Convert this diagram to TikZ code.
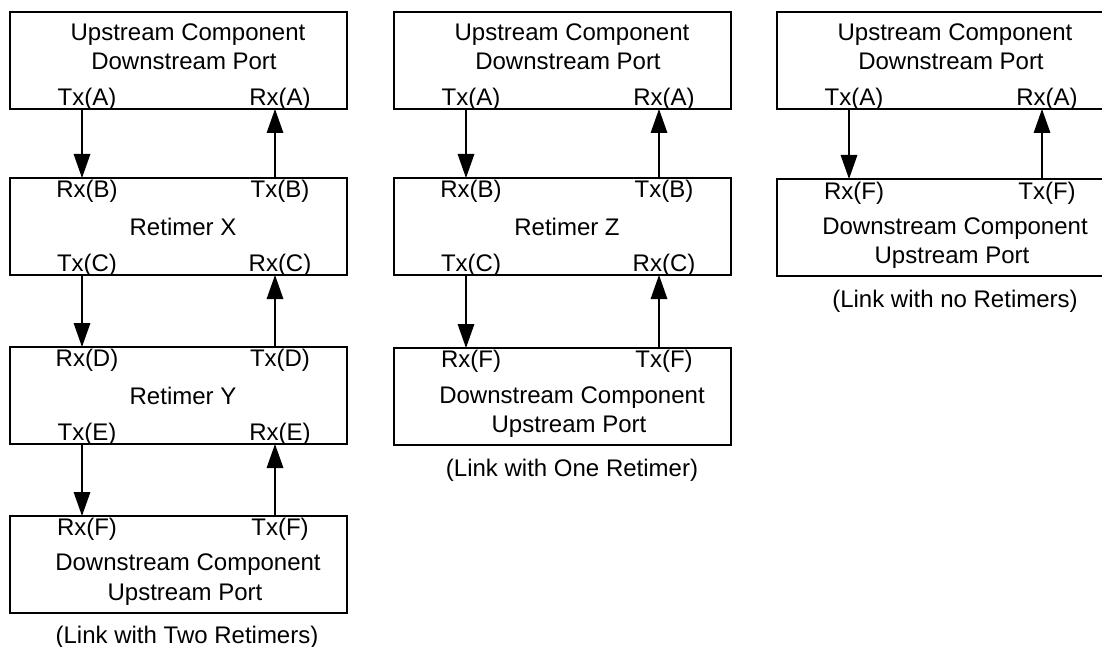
\documentclass[tikz,border=0pt]{standalone}
\usepackage{fontspec}
\setmainfont{Liberation Sans}
\usetikzlibrary{arrows.meta}
\begin{document}
\begin{tikzpicture}[x=1pt,y=-1pt,
  box/.style={draw,line width=1.5pt,minimum width=337pt,minimum height=97pt,anchor=north west,inner sep=0pt,outer sep=0pt},
  txt/.style={font=\fontsize{24}{29}\selectfont,anchor=base,inner sep=0pt},
  sig/.style={line width=1.5pt,-{Triangle[length=24pt,width=16.5pt]}}]
\useasboundingbox (0,0) rectangle (1102,647);
\clip (0,0) rectangle (1102,647);
% ---------------- Column 1: two retimers ----------------
\node[box] (a1) at (10,12) {};
\node[box] (a2) at (10,178) {};
\node[box] (a3) at (10,347) {};
\node[box] (a4) at (10,516) {};
\node[txt] (a1t1) at (188,40.5) {Upstream Component};
\node[txt] (a1t2) at (184,70) {Downstream Port};
\node[txt] (a1tx) at (87,105.5) {Tx(A)};
\node[txt] (a1rx) at (280,105.5) {Rx(A)};
\node[txt] (a2rx) at (87,197) {Rx(B)};
\node[txt] (a2tx) at (280,197) {Tx(B)};
\node[txt] (a2n) at (183,235) {Retimer X};
\node[txt] (a2tx2) at (87,271.5) {Tx(C)};
\node[txt] (a2rx2) at (280,271.5) {Rx(C)};
\node[txt] (a3rx) at (87,366) {Rx(D)};
\node[txt] (a3tx) at (280,366) {Tx(D)};
\node[txt] (a3n) at (183,404) {Retimer Y};
\node[txt] (a3tx2) at (87,440.5) {Tx(E)};
\node[txt] (a3rx2) at (280,440.5) {Rx(E)};
\node[txt] (a4rx) at (87,535) {Rx(F)};
\node[txt] (a4tx) at (280,535) {Tx(F)};
\node[txt] (a4t1) at (188,570) {Downstream Component};
\node[txt] (a4t2) at (185,600) {Upstream Port};
\node[txt] (acap) at (187,643) {(Link with Two Retimers)};
\draw[sig] ([xshift=72pt]a1.south west) -- ([xshift=72pt]a2.north west);
\draw[sig] ([xshift=265pt]a2.north west) -- ([xshift=265pt]a1.south west);
\draw[sig] ([xshift=72pt]a2.south west) -- ([xshift=72pt]a3.north west);
\draw[sig] ([xshift=265pt]a3.north west) -- ([xshift=265pt]a2.south west);
\draw[sig] ([xshift=72pt]a3.south west) -- ([xshift=72pt]a4.north west);
\draw[sig] ([xshift=265pt]a4.north west) -- ([xshift=265pt]a3.south west);
% ---------------- Column 2: one retimer ----------------
\node[box] (b1) at (394,12) {};
\node[box] (b2) at (394,178) {};
\node[box] (b3) at (394,348) {};
\node[txt] (b1t1) at (572,40.5) {Upstream Component};
\node[txt] (b1t2) at (568,70) {Downstream Port};
\node[txt] (b1tx) at (471,105.5) {Tx(A)};
\node[txt] (b1rx) at (664,105.5) {Rx(A)};
\node[txt] (b2rx) at (471,197) {Rx(B)};
\node[txt] (b2tx) at (664,197) {Tx(B)};
\node[txt] (b2n) at (567,235) {Retimer Z};
\node[txt] (b2tx2) at (471,271.5) {Tx(C)};
\node[txt] (b2rx2) at (664,271.5) {Rx(C)};
\node[txt] (b3rx) at (471,367) {Rx(F)};
\node[txt] (b3tx) at (664,367) {Tx(F)};
\node[txt] (b3t1) at (572,403) {Downstream Component};
\node[txt] (b3t2) at (569,432) {Upstream Port};
\node[txt] (bcap) at (572,476) {(Link with One Retimer)};
\draw[sig] ([xshift=72pt]b1.south west) -- ([xshift=72pt]b2.north west);
\draw[sig] ([xshift=265pt]b2.north west) -- ([xshift=265pt]b1.south west);
\draw[sig] ([xshift=72pt]b2.south west) -- ([xshift=72pt]b3.north west);
\draw[sig] ([xshift=265pt]b3.north west) -- ([xshift=265pt]b2.south west);
% ---------------- Column 3: no retimers ----------------
\node[box] (c1) at (777,12) {};
\node[box] (c2) at (777,179) {};
\node[txt] (c1t1) at (955,40.5) {Upstream Component};
\node[txt] (c1t2) at (951,70) {Downstream Port};
\node[txt] (c1tx) at (854,105.5) {Tx(A)};
\node[txt] (c1rx) at (1047,105.5) {Rx(A)};
\node[txt] (c2rx) at (854,200) {Rx(F)};
\node[txt] (c2tx) at (1047,200) {Tx(F)};
\node[txt] (c2t1) at (955,234) {Downstream Component};
\node[txt] (c2t2) at (952,263) {Upstream Port};
\node[txt] (ccap) at (955,307) {(Link with no Retimers)};
\draw[sig] ([xshift=72pt]c1.south west) -- ([xshift=72pt]c2.north west);
\draw[sig] ([xshift=265pt]c2.north west) -- ([xshift=265pt]c1.south west);
\end{tikzpicture}
\end{document}
